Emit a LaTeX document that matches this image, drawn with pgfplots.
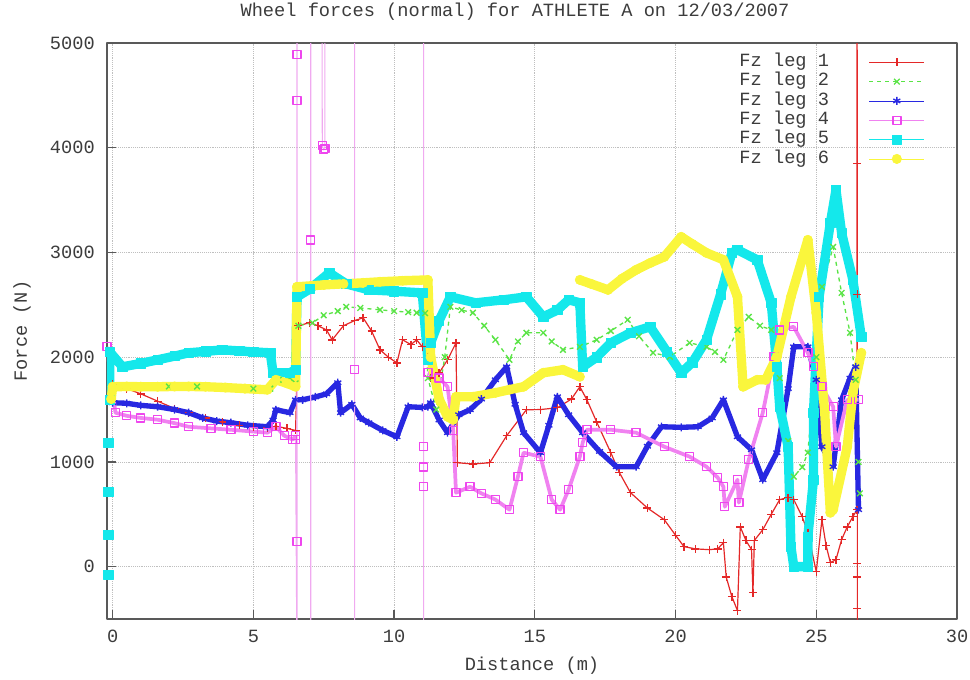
\documentclass[border=0pt]{standalone}
\usepackage{fontspec}
\setmainfont{Liberation Mono}
\usepackage{pgfplots}
\pgfplotsset{compat=1.18}
\definecolor{cRed}{RGB}{228,40,40}
\definecolor{cGreen}{RGB}{90,228,70}
\definecolor{cBlue}{RGB}{40,40,225}
\definecolor{cMag}{RGB}{238,70,238}
\definecolor{cMagL}{RGB}{240,130,240}
\definecolor{cMagS}{RGB}{240,170,240}
\definecolor{cCyan}{RGB}{20,232,235}
\definecolor{cYel}{RGB}{250,246,60}
\definecolor{txt}{RGB}{60,60,60}
\newcommand{\fs}{\fontsize{14pt}{16pt}\selectfont}
\begin{document}
\begin{tikzpicture}
\begin{axis}[
  scale only axis, width=637.5pt, height=432pt,
  xmin=-0.2, xmax=30, ymin=-500, ymax=5000,
  xtick={0,5,...,30}, ytick={0,1000,...,5000},
  tick pos=left, tick align=inside, major tick length=7pt,
  major tick style={line width=1pt, draw=black!65},
  /pgf/number format/assume math mode=true,
  /pgf/number format/1000 sep={},
  tick label style={font=\fs, text=txt},
  xticklabel style={anchor=center, yshift=-12.75pt},
  yticklabel style={anchor=east, inner sep=0pt, xshift=-9pt},
  axis line style={draw=black!65, line width=1.5pt},
  grid=major, major grid style={densely dotted, black!25, line width=0.6pt},
  xlabel={Distance (m)}, ylabel={Force (N)},
  label style={font=\fs, text=txt},
  xlabel style={at={(axis description cs:0.5,-0.0816)}, anchor=center},
  ylabel style={at={(axis description cs:-0.1,0.5)}, anchor=center},
  title={Wheel forces (normal) for ATHLETE A on 12/03/2007},
  every axis title shift=0pt,
  title style={at={(axis description cs:0.48,1.0538)}, anchor=center, font=\fs, text=txt},
  unbounded coords=jump,
  legend plot pos=right, legend cell align=right,
  legend style={at={(1,1)}, anchor=north east, xshift=-24pt, yshift=-7pt,
    draw=none, fill=none, font=\fs, text=txt, row sep=0pt, inner sep=0pt,
    nodes={inner sep=0.5pt, text height=10pt, text depth=3.5pt}},
  legend image code/.code={\path (0cm,0cm); \draw[mark repeat=2,mark phase=2,#1,line width=0.6pt] plot coordinates {(0.92cm,0cm) (1.645cm,0cm) (2.37cm,0cm)};},
  line join=round,
]
% ---------------- Fz leg 1 (red)
\addplot[color=cRed, line width=0.9pt, mark=+, mark size=3pt, mark options={solid, line width=1pt}]
table[row sep=\\]{
x y\\
0 1740\\ 0.5 1700\\ 1.0 1650\\ 1.6 1580\\ 2.2 1510\\ 2.7 1470\\ 3.3 1420\\ 3.9 1380\\
4.5 1350\\ 5.0 1330\\ 5.5 1326\\ 5.8 1340\\ 6.2 1320\\ 6.5 1300\\ 6.6 2300\\ 7.0 2330\\
7.3 2300\\ 7.6 2260\\ 7.8 2165\\ 8.2 2300\\ 8.6 2350\\ 8.9 2376\\ 9.2 2250\\ 9.5 2070\\
9.8 2000\\ 10.1 1946\\ 10.3 2166\\ 10.6 2120\\ 10.8 2166\\ 11.0 2100\\ 11.2 2004\\ 11.3 1800\\
11.6 1850\\ 11.9 1975\\ 12.2 2137\\ 12.25 992\\ 12.8 980\\ 13.4 992\\ 14.0 1250\\ 14.7 1498\\
15.2 1500\\ 15.8 1517\\ 16.3 1600\\ 16.6 1718\\ 16.85 1593\\ 17.2 1380\\ 17.7 1088\\ 18.0 900\\
18.4 706\\ 19.0 560\\ 19.6 448\\ 20.0 300\\ 20.3 191\\ 20.7 170\\ 21.2 162\\ 21.5 170\\
21.7 229\\ 21.8 -100\\ 22.0 -286\\ 22.2 -420\\ 22.3 380\\ 22.5 250\\ 22.7 162\\ 22.75 -248\\
22.8 250\\ 23.1 353\\ 23.4 500\\ 23.7 640\\ 24.0 660\\ 24.2 640\\ 24.5 477\\ 24.7 324\\
25.0 -48\\ 25.2 448\\ 25.35 200\\ 25.5 38\\ 25.7 67\\ 25.9 258\\ 26.1 380\\ 26.3 477\\
26.45 544\\ 26.45 5200\\ 26.46 3850\\ 26.46 2600\\ 26.46 30\\ 26.46 -100\\ 26.46 -400\\ 26.46 -700\\
};
\addlegendentry{Fz leg 1}
% ---------------- Fz leg 2 (green)
\addplot[color=cGreen, line width=1pt, dashed, mark=x, mark size=3pt, mark options={solid, line width=1pt}]
table[row sep=\\]{
x y\\
0 1720\\ 1.0 1720\\ 2.0 1720\\ 3.0 1720\\ 4.0 1715\\ 5.0 1700\\ 5.6 1700\\ 5.9 1784\\
6.3 1800\\ 6.5 1750\\ 6.6 2300\\ 7.1 2328\\ 7.5 2400\\ 8.0 2440\\ 8.3 2481\\ 8.8 2470\\
9.5 2452\\ 10.0 2440\\ 10.5 2430\\ 10.8 2424\\ 11.1 2420\\ 11.2 1800\\ 11.5 1500\\ 11.8 2000\\
12.0 2481\\ 12.4 2450\\ 12.8 2424\\ 13.2 2300\\ 13.6 2166\\ 14.1 1975\\ 14.4 2150\\ 14.7 2233\\
15.3 2233\\ 15.6 2150\\ 16.0 2070\\ 16.6 2099\\ 17.2 2166\\ 17.7 2250\\ 18.3 2357\\ 18.7 2200\\
19.2 2042\\ 19.8 2004\\ 20.5 2137\\ 21.1 2099\\ 21.4 2050\\ 21.7 1975\\ 22.2 2261\\ 22.6 2385\\
23.0 2300\\ 23.4 2261\\ 23.7 1800\\ 24.0 1200\\ 24.2 859\\ 24.5 950\\ 24.7 1088\\ 25.0 2000\\
25.2 2672\\ 25.6 3053\\ 25.9 2614\\ 26.2 2233\\ 26.4 1784\\ 26.5 1000\\ 26.55 700\\
};
\addlegendentry{Fz leg 2}
% ---------------- Fz leg 3 (blue)
\addplot[color=cBlue, line width=4pt, mark=asterisk, mark size=3pt, mark options={solid, line width=1pt}]
table[row sep=\\]{
x y\\
0 1565\\ 0.5 1560\\ 1.0 1540\\ 1.6 1527\\ 2.2 1500\\ 2.7 1470\\ 3.2 1420\\ 3.7 1390\\
4.2 1374\\ 4.8 1350\\ 5.5 1336\\ 5.7 1400\\ 5.8 1498\\ 6.3 1470\\ 6.5 1593\\ 6.75 1593\\
7.2 1620\\ 7.6 1650\\ 8.0 1756\\ 8.1 1470\\ 8.5 1550\\ 8.8 1420\\ 9.1 1374\\ 9.6 1300\\
10.1 1240\\ 10.5 1527\\ 11.0 1520\\ 11.2 1527\\ 11.3 1565\\ 11.6 1400\\ 11.9 1279\\ 12.3 1450\\
12.7 1498\\ 13.1 1600\\ 13.6 1784\\ 14.0 1908\\ 14.3 1550\\ 14.6 1279\\ 15.2 1088\\ 15.5 1350\\
15.8 1622\\ 16.2 1450\\ 16.7 1279\\ 17.3 1100\\ 17.9 954\\ 18.6 954\\ 19.0 1150\\ 19.5 1336\\
20.2 1330\\ 20.8 1336\\ 21.3 1420\\ 21.7 1593\\ 22.2 1240\\ 22.7 1116\\ 23.1 830\\ 23.6 1088\\
24.0 1700\\ 24.2 2099\\ 24.7 2099\\ 25.0 1784\\ 25.2 1145\\ 25.6 954\\ 25.9 1593\\ 26.2 1800\\
26.4 1908\\ 26.5 544\\
};
\addlegendentry{Fz leg 3}
% ---------------- Fz leg 4 (magenta): spikes, thin
\addplot[forget plot, color=cMagS, line width=0.8pt, mark=square, mark size=3pt, mark options={solid, line width=1pt, draw=cMag}]
table[row sep=\\]{
x y\\
6.5 1212\\ 6.55 -1000\\ 6.55 240\\ 6.55 4450\\ 6.55 4890\\ 6.55 6000\\ 7.04 6000\\ 7.04 3120\\ 7.04 -1000\\
nan nan\\
7.43 6000\\ 7.45 4020\\ 7.5 3980\\ 7.54 3990\\ 7.54 6000\\
nan nan\\
8.6 6000\\ 8.6 1880\\ 8.6 -1000\\
nan nan\\
11.05 6000\\ 11.05 1145\\ 11.05 950\\ 11.05 763\\ 11.05 -1000\\
};
\addplot[color=cMagL, line width=2.8pt, mark=square, mark size=3pt, mark options={solid, line width=1pt, draw=cMag}]
table[row sep=\\]{
x y\\
-0.2 2099\\ 0.1 1470\\ 0.5 1440\\ 1.0 1420\\ 1.6 1403\\ 2.2 1370\\ 2.7 1336\\ 3.5 1320\\
4.2 1307\\ 5.0 1290\\ 5.5 1279\\ 5.8 1336\\ 6.1 1250\\ 6.4 1212\\ 6.5 1250\\
nan nan\\
11.2 1851\\ 11.6 1800\\ 11.9 1718\\ 12.1 1300\\ 12.2 706\\ 12.7 763\\ 13.1 700\\ 13.6 640\\
14.1 544\\ 14.4 859\\ 14.6 1088\\ 15.2 1050\\ 15.6 640\\ 15.9 544\\ 16.2 735\\ 16.6 1050\\
16.7 1183\\ 16.85 1307\\ 17.7 1307\\ 18.6 1279\\ 19.6 1145\\ 20.5 1050\\ 21.1 954\\ 21.5 850\\
21.7 763\\ 21.75 572\\ 22.2 830\\ 22.25 611\\ 22.6 1021\\ 23.1 1470\\ 23.5 2004\\ 23.7 2261\\
24.2 2290\\ 24.7 2042\\ 24.9 1908\\ 25.2 1718\\ 25.6 1527\\ 25.7 1145\\ 26.1 1593\\ 26.5 1593\\
};
\addlegendentry{Fz leg 4}
% ---------------- Fz leg 5 (cyan)
\addplot[forget plot, only marks, color=cCyan, mark=square*, mark size=3.5pt]
table[row sep=\\]{
x y\\
-0.15 -80\\ -0.15 305\\ -0.15 716\\ -0.15 1183\\
};
\addplot[color=cCyan, line width=7pt, mark=square*, mark size=3.5pt, mark options={solid, line width=0.5pt}]
table[row sep=\\]{
x y\\
-0.1 1590\\ -0.1 2050\\ 0.35 1908\\ 1.0 1940\\ 1.6 1975\\ 2.2 2010\\ 2.7 2042\\ 3.3 2055\\
3.9 2070\\ 4.5 2060\\ 5.0 2050\\ 5.6 2042\\ 5.7 1851\\ 6.3 1851\\ 6.5 1880\\ 6.55 2576\\
7.0 2650\\ 7.7 2805\\ 8.3 2700\\ 9.1 2643\\ 10.0 2630\\ 11.0 2614\\ 11.2 1975\\ 11.3 2137\\
11.6 2350\\ 12.0 2576\\ 12.9 2519\\ 13.9 2548\\ 14.7 2576\\ 15.3 2385\\ 15.8 2450\\ 16.2 2548\\
16.6 2519\\ 16.7 1908\\ 17.2 2000\\ 17.7 2137\\ 18.4 2233\\ 19.1 2290\\ 19.7 2050\\ 20.2 1851\\
20.6 1950\\ 21.1 2166\\ 21.6 2600\\ 22.0 2996\\ 22.2 3025\\ 22.9 2930\\ 23.4 2519\\ 23.6 1908\\
23.7 1527\\ 24.0 1145\\ 24.1 191\\ 24.2 0\\ 24.7 0\\ 24.7 286\\ 24.9 830\\ 24.9 1470\\
25.1 2576\\ 25.5 3282\\ 25.7 3597\\ 25.9 3187\\ 26.3 2738\\ 26.6 2194\\
};
\addlegendentry{Fz leg 5}
% ---------------- Fz leg 6 (yellow)
\addplot[color=cYel, line width=7pt, mark=*, mark size=3.5pt, mark options={solid, line width=0.5pt}]
table[row sep=\\]{
x y\\
-0.05 1600\\ 0 1718\\ 0.5 1720\\ 1.0 1718\\ 1.6 1718\\ 2.2 1720\\ 2.7 1720\\ 3.3 1718\\ 4.0 1710\\
4.7 1700\\ 5.5 1689\\ 5.8 1784\\ 6.2 1750\\ 6.5 1718\\ 6.55 2672\\ 7.5 2690\\ 8.2 2700\\
8.9 2710\\ 9.5 2720\\ 10.3 2730\\ 11.2 2738\\ 11.3 2000\\ 11.6 1600\\ 11.9 1431\\ 12.1 1403\\
12.2 1622\\ 12.8 1622\\ 13.6 1660\\ 14.1 1690\\ 14.6 1718\\ 15.3 1851\\ 16.0 1880\\ 16.6 1813\\
nan nan\\
16.6 2738\\ 17.0 2700\\ 17.6 2643\\ 18.1 2750\\ 18.6 2834\\ 19.1 2900\\ 19.6 2958\\ 20.2 3149\\
20.6 3080\\ 21.1 2996\\ 21.7 2930\\ 22.2 2576\\ 22.4 1718\\ 22.9 1784\\ 23.2 1784\\ 23.6 2004\\
24.1 2576\\ 24.7 3120\\ 25.0 2424\\ 25.3 1470\\ 25.5 515\\ 25.6 544\\ 26.1 1145\\ 26.3 1660\\
26.6 2042\\
};
\addlegendentry{Fz leg 6}
\end{axis}
\pgfresetboundingbox
\path (-80.25pt,-45pt) rectangle (647.25pt,464.25pt);
\end{tikzpicture}
\end{document}
